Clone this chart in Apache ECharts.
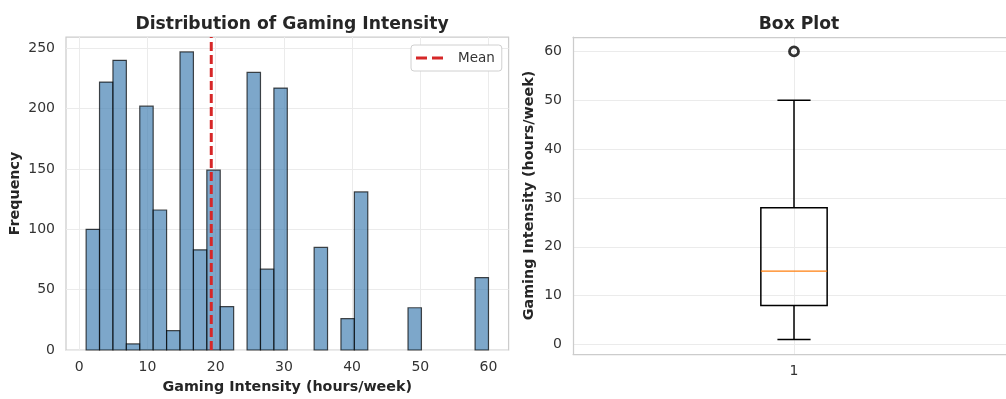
<!DOCTYPE html>
<html><head><meta charset="utf-8">
<script src="https://cdn.jsdelivr.net/npm/echarts@6/dist/echarts.min.js"></script>
<style>html,body{margin:0;padding:0;background:#fff}#c{width:1006px;height:399px}</style>
</head><body><div id="c"></div>
<script>
// ---- data ----
const histCounts = [100,222,240,5,202,116,16,247,83,149,36,0,230,67,217,0,0,85,0,26,131,0,0,0,35,0,0,0,0,60];
const histRange = [1, 60];
const meanValue = 19.35;
const xTicks = [0,10,20,30,40,50,60];
const freqTicks = [0,50,100,150,200,250];
const boxPosition = [1];
const boxLabels = ['1'];
const boxStats = [1, 8, 15, 28, 50]; // low whisker, Q1, median, Q3, high whisker
const boxOutliers = [60];
const boxTicks = [0,10,20,30,40,50,60];

// ---- derived ----
const nb = histCounts.length;
const bw = (histRange[1] - histRange[0]) / nb;
const histData = histCounts.map((c, i) => [histRange[0] + i * bw, histRange[0] + (i + 1) * bw, c]).filter(d => d[2] > 0);
const pad = (histRange[1] - histRange[0]) * 0.05;
const xMin = histRange[0] - pad, xMax = histRange[1] + pad;
const yMax = Math.max(...histCounts) * 1.05;
const bMin = histRange[0] - pad, bMax = histRange[1] + pad;
// right panel is wider than the canvas; it is cut at the canvas edge
const boxGridW = 433, boxUnitPx = 442;
const boxXMax = 0.5 + boxGridW / boxUnitPx;

const FONT = 'DejaVu Sans';
const TXT = '#333';
const GRIDC = '#ebebeb';
const SPINE = {show: true, onZero: false, lineStyle: {color: '#cccccc', width: 1.25}};
const TICK_FS = 14, NAME_FS = 14.3, TITLE_FS = 17.2;

const chart = echarts.init(document.getElementById('c'), null, {renderer: 'canvas'});
chart.setOption({
  animation: false,
  backgroundColor: '#fff',
  textStyle: {fontFamily: FONT},
  title: [
    {text: 'Distribution of Gaming Intensity', left: 287, top: 11, textAlign: 'center',
     textStyle: {fontFamily: FONT, fontWeight: 'bold', fontSize: TITLE_FS, color: '#262626'}},
    {text: 'Box Plot', left: 794, top: 11, textAlign: 'center',
     textStyle: {fontFamily: FONT, fontWeight: 'bold', fontSize: TITLE_FS, color: '#262626'}}
  ],
  legend: {
    data: [{name: 'Mean', icon: 'path://M0,0H11V3H0Z M16,0H27V3H16Z'}], left: 411, top: 45, orient: 'vertical',
    padding: [5, 7, 5, 5], itemWidth: 27, itemHeight: 3,
    borderColor: '#d0d0d0', borderWidth: 1, borderRadius: 3, backgroundColor: '#fff',
    itemStyle: {color: '#d62728'},
    textStyle: {fontFamily: FONT, fontSize: 13.5, color: TXT, padding: [0, 0, 0, 10], lineHeight: 16}
  },
  grid: [
    {left: 66, top: 37, width: 442.6, height: 317, show: true, borderColor: '#cccccc', borderWidth: 1.25, containLabel: false},
    {left: 573, top: 37, width: boxGridW, height: 317, show: false, containLabel: false}
  ],
  xAxis: [
    {type: 'value', gridIndex: 0, min: xMin, max: xMax,
     axisLine: {show: false}, axisTick: {show: false, customValues: xTicks},
     axisLabel: {customValues: xTicks, fontFamily: FONT, fontSize: TICK_FS, color: TXT, margin: 10},
     splitLine: {show: true, lineStyle: {color: GRIDC, width: 1}},
     name: 'Gaming Intensity (hours/week)', nameLocation: 'middle', nameGap: 30,
     nameTextStyle: {fontFamily: FONT, fontWeight: 'bold', fontSize: NAME_FS, color: '#262626'}},
    {type: 'value', gridIndex: 1, position: 'bottom', min: 0.5, max: boxXMax,
     axisLine: SPINE, axisTick: {show: false, customValues: boxPosition},
     axisLabel: {customValues: boxPosition, formatter: v => boxLabels[boxPosition.indexOf(v)] || '', fontFamily: FONT, fontSize: TICK_FS, color: TXT, margin: 10},
     splitLine: {show: true, lineStyle: {color: GRIDC, width: 1}}},
    {type: 'value', gridIndex: 1, position: 'top', min: 0.5, max: boxXMax,
     axisLine: SPINE, axisTick: {show: false}, axisLabel: {show: false}, splitLine: {show: false}}
  ],
  yAxis: [
    {type: 'value', gridIndex: 0, min: 0, max: yMax,
     axisLine: {show: false}, axisTick: {show: false, customValues: freqTicks},
     axisLabel: {customValues: freqTicks, fontFamily: FONT, fontSize: TICK_FS, color: TXT, margin: 11},
     splitLine: {show: true, lineStyle: {color: GRIDC, width: 1}},
     name: 'Frequency', nameLocation: 'middle', nameGap: 44,
     nameTextStyle: {fontFamily: FONT, fontWeight: 'bold', fontSize: NAME_FS, color: '#262626'}},
    {type: 'value', gridIndex: 1, position: 'left', min: bMin, max: bMax,
     axisLine: SPINE, axisTick: {show: false, customValues: boxTicks},
     axisLabel: {customValues: boxTicks, fontFamily: FONT, fontSize: TICK_FS, color: TXT, margin: 11},
     splitLine: {show: true, lineStyle: {color: GRIDC, width: 1}},
     name: 'Gaming Intensity (hours/week)', nameLocation: 'middle', nameGap: 37,
     nameTextStyle: {fontFamily: FONT, fontWeight: 'bold', fontSize: NAME_FS, color: '#262626'}}
  ],
  series: [
    {type: 'custom', name: 'hist', xAxisIndex: 0, yAxisIndex: 0, data: histData,
     encode: {x: [0, 1], y: 2}, z: 2,
     renderItem: function (params, api) {
       const p0 = api.coord([api.value(0), 0]);
       const p1 = api.coord([api.value(1), api.value(2)]);
       return {type: 'rect', shape: {x: p0[0], y: p1[1], width: p1[0] - p0[0], height: p0[1] - p1[1]},
         style: {fill: 'rgba(70,130,180,0.7)', stroke: 'rgba(0,0,0,0.7)', lineWidth: 1.2}};
     }},
    {type: 'line', name: 'Mean', xAxisIndex: 0, yAxisIndex: 0, z: 5,
     data: [[meanValue, 0], [meanValue, yMax]], symbol: 'none', showSymbol: false,
     itemStyle: {color: '#d62728'},
     lineStyle: {color: '#d62728', width: 3, type: [9, 4]}},
    {type: 'custom', name: 'box', xAxisIndex: 1, yAxisIndex: 1, z: 3,
     data: [[boxPosition[0]].concat(boxStats)],
     encode: {x: 0, y: [1, 2, 3, 4, 5]},
     renderItem: function (params, api) {
       const x = api.value(0);
       const lo = api.value(1), q1 = api.value(2), med = api.value(3), q3 = api.value(4), hi = api.value(5);
       const hw = 0.075, cw = 0.0375;
       const a = api.coord([x - hw, q3]), b = api.coord([x + hw, q1]);
       const m0 = api.coord([x - hw, med]), m1 = api.coord([x + hw, med]);
       const c = api.coord([x, q1]), l = api.coord([x, lo]);
       const d = api.coord([x, q3]), h = api.coord([x, hi]);
       const cl0 = api.coord([x - cw, lo]), cl1 = api.coord([x + cw, lo]);
       const ch0 = api.coord([x - cw, hi]), ch1 = api.coord([x + cw, hi]);
       const ls = {stroke: '#000', lineWidth: 1.5, fill: null};
       return {type: 'group', children: [
         {type: 'line', shape: {x1: c[0], y1: c[1], x2: l[0], y2: l[1]}, style: ls},
         {type: 'line', shape: {x1: d[0], y1: d[1], x2: h[0], y2: h[1]}, style: ls},
         {type: 'line', shape: {x1: cl0[0], y1: cl0[1], x2: cl1[0], y2: cl1[1]}, style: ls},
         {type: 'line', shape: {x1: ch0[0], y1: ch0[1], x2: ch1[0], y2: ch1[1]}, style: ls},
         {type: 'rect', shape: {x: a[0], y: a[1], width: b[0] - a[0], height: b[1] - a[1]}, style: {stroke: '#000', lineWidth: 1.5, fill: 'rgba(255,255,255,0)'}},
         {type: 'line', shape: {x1: m0[0], y1: m0[1], x2: m1[0], y2: m1[1]}, style: {stroke: '#ff7f0e', lineWidth: 1.2}}
       ]};
     }},
    {type: 'scatter', name: 'outliers', xAxisIndex: 1, yAxisIndex: 1, z: 4,
     data: boxOutliers.map(v => [boxPosition[0], v]), symbol: 'circle', symbolSize: 9,
     itemStyle: {color: 'rgba(255,255,255,0)', borderColor: '#000', borderWidth: 2.8}}
  ]
});
</script></body></html>
